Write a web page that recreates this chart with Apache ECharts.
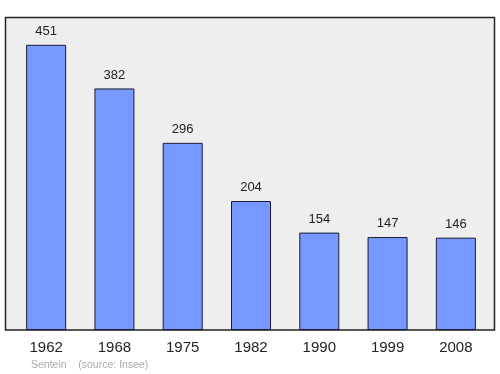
<!DOCTYPE html>
<html><head><meta charset="utf-8">
<script src="https://cdn.jsdelivr.net/npm/echarts@6/dist/echarts.min.js"></script>
<style>html,body{margin:0;padding:0;background:#fff}#c{width:500px;height:374px}</style>
</head><body><div id="c"></div>
<script>
const years = ['1962','1968','1975','1982','1990','1999','2008'];
const population = [451,382,296,204,154,147,146];
const footer = 'Sentein    (source: Insee)';

const chart = echarts.init(document.getElementById('c'), null, {renderer:'canvas'});
chart.setOption({
  animation:false,
  backgroundColor:'#ffffff',
  graphic:[
    {type:'rect', z:-10, shape:{x:5.5,y:17.5,width:489,height:312.5},
     style:{fill:'#eeeeee', stroke:'#222222', lineWidth:1.5}},
    {type:'text', left:31, top:360, style:{text:footer, fill:'#aaaaaa', font:'10.5px "Liberation Sans", Arial, sans-serif'}}
  ],
  grid:{left:12, right:10, top:17, bottom:44},
  xAxis:{type:'category', data:years, boundaryGap:true,
    axisLine:{show:false}, axisTick:{show:false},
    axisLabel:{color:'#222222', fontSize:15, margin:10, fontFamily:'"Liberation Sans", Arial, sans-serif'}},
  yAxis:{type:'value', min:0, max:495, show:false, splitLine:{show:false}},
  series:[{type:'bar', data:population, barWidth:40,
    itemStyle:{color:'#7799ff', borderColor:'#1a1a33', borderWidth:1},
    label:{show:true, position:'top', distance:7, color:'#222222', fontSize:13,
      fontFamily:'"Liberation Sans", Arial, sans-serif'}}]
});
</script></body></html>
